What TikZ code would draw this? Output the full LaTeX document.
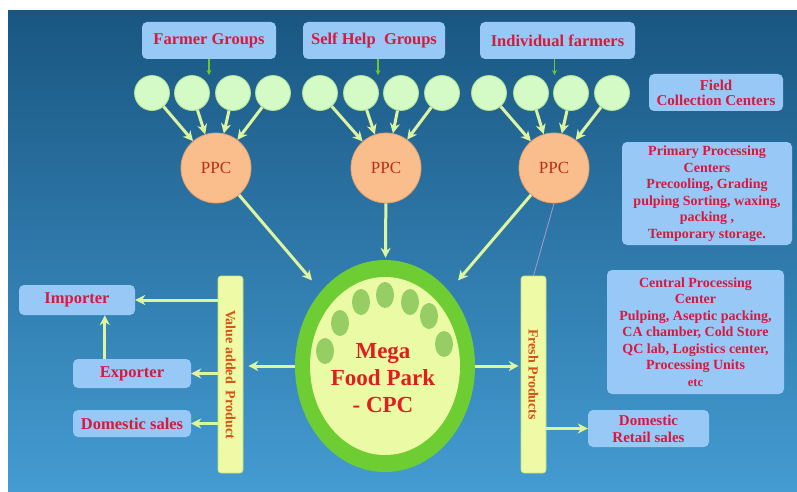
\documentclass[tikz,border=0pt]{standalone}
\usepackage{fontspec}
\setmainfont{Liberation Serif}
\usepackage{tikz}
\usetikzlibrary{arrows.meta,calc}
\usetikzlibrary{shapes.geometric}
\definecolor{bgtop}{RGB}{25,86,130}
\definecolor{bgbot}{RGB}{68,156,210}
\definecolor{boxblue}{RGB}{152,200,245}
\definecolor{txtred}{RGB}{215,25,65}
\definecolor{fccfill}{RGB}{212,250,197}
\definecolor{fccdraw}{RGB}{175,225,150}
\definecolor{ppcfill}{RGB}{250,190,140}
\definecolor{ppcdraw}{RGB}{232,160,110}
\definecolor{ppctext}{RGB}{185,45,25}
\definecolor{flowcol}{RGB}{222,245,160}
\definecolor{feedcol}{RGB}{110,200,40}
\definecolor{linkcol}{RGB}{175,150,210}
\definecolor{megagreen}{RGB}{110,205,50}
\definecolor{megain}{RGB}{235,250,165}
\definecolor{seedcol}{RGB}{150,205,100}
\definecolor{megared}{RGB}{225,30,30}
\definecolor{barfill}{RGB}{238,250,165}
\definecolor{bardraw}{RGB}{200,225,120}
\definecolor{bartext}{RGB}{215,80,20}
\tikzset{src/.style={rectangle,rounded corners=5pt,fill=boxblue,text=txtred,align=center,inner sep=0pt,font=\bfseries\fontsize{16.5}{18}\selectfont},
  info/.style={src,font=\bfseries\fontsize{14}{16.5}\selectfont},
  fccirc/.style={circle,fill=fccfill,draw=fccdraw,line width=0.8pt,minimum size=35pt,inner sep=0pt},
  ppcnode/.style={circle,fill=ppcfill,draw=ppcdraw,line width=0.8pt,minimum size=70pt,inner sep=0pt,text=ppctext,font=\fontsize{17}{20}\selectfont},
  bar/.style={rectangle,rounded corners=3pt,fill=barfill,draw=bardraw,line width=0.6pt,minimum width=25pt,minimum height=197pt,inner sep=0pt,text=bartext,font=\bfseries\fontsize{14}{15}\selectfont},
  megatext/.style={align=center,text=megared,font=\bfseries\fontsize{23}{27}\selectfont},
  seedfill/.style={fill=seedcol},
  flow/.style={->,draw=flowcol,line width=3pt},
  feed/.style={-{Stealth[length=5pt,width=5pt]},draw=feedcol,line width=1.5pt},
  link/.style={draw=linkcol,line width=0.8pt}}

\begin{document}
\begin{tikzpicture}[x=1pt,y=-1pt,>={Stealth[length=10pt,width=10pt]},line join=round]
% --- background
\fill[white] (0,0) rectangle (797,492);
\shade[top color=bgtop,bottom color=bgbot] (8,11) rectangle (797,492);
% --- sources
\node[src,minimum width=134pt,minimum height=37pt] (fg) at (209,40.5) {Farmer Groups};
\node[src,minimum width=142pt,minimum height=37pt] (shg) at (374,40.5) {Self Help\ \ Groups};
\node[src,minimum width=155pt,minimum height=37pt] (indf) at (557.5,40.5) {Individual farmers};
\node[src,minimum width=134pt,minimum height=37pt,font=\bfseries\fontsize{15}{15}\selectfont] (fieldcc) at (716,92.5) {Field\\Collection Centers};
% --- field collection centers
\node[fccirc] (c11) at (152,93) {}; \node[fccirc] (c12) at (192,93) {}; \node[fccirc] (c13) at (233,93) {}; \node[fccirc] (c14) at (273,93) {};
\node[fccirc] (c21) at (320,93) {}; \node[fccirc] (c22) at (361,93) {}; \node[fccirc] (c23) at (401,93) {}; \node[fccirc] (c24) at (442,93) {};
\node[fccirc] (c31) at (489,93) {}; \node[fccirc] (c32) at (531,93) {}; \node[fccirc] (c33) at (571,93) {}; \node[fccirc] (c34) at (612,93) {};
\draw[feed] (fg.south) -- (fg.south |- c12.north);
\draw[feed] ([xshift=4pt]shg.south) -- ([xshift=4pt]shg.south |- c22.north);
\draw[feed] ([xshift=-3pt]indf.south) -- ([xshift=-3pt]indf.south |- c32.north);
% --- primary processing centers
\node[ppcnode] (ppc1) at (216,168) {PPC};
\node[ppcnode] (ppc2) at (386,168) {PPC};
\node[ppcnode] (ppc3) at (554,168) {PPC};
\draw[flow] (c11) -- (ppc1); \draw[flow] (c12) -- (ppc1); \draw[flow] (c13) -- (ppc1); \draw[flow] (c14) -- (ppc1);
\draw[flow] (c21) -- (ppc2); \draw[flow] (c22) -- (ppc2); \draw[flow] (c23) -- (ppc2); \draw[flow] (c24) -- (ppc2);
\draw[flow] (c31) -- (ppc3); \draw[flow] (c32) -- (ppc3); \draw[flow] (c33) -- (ppc3); \draw[flow] (c34) -- (ppc3);
\node[info,minimum width=170pt,minimum height=103pt] (ppcinfo) at (707,193.5) {Primary Processing\\Centers\\Precooling, Grading\\pulping Sorting, waxing,\\packing ,\\Temporary storage.};
% --- mega food park
\node[ellipse,fill=megagreen,minimum width=180pt,minimum height=212pt,inner sep=0pt] (mega) at (385,366) {};
\fill[megain] (mega.center) ellipse [x radius=75pt,y radius=89pt];
\fill[seedfill] (325,351) ellipse [x radius=9pt,y radius=13pt]; \fill[seedfill] (340,323) ellipse [x radius=9pt,y radius=13pt];
\fill[seedfill] (361,302) ellipse [x radius=9pt,y radius=13pt]; \fill[seedfill] (385,295) ellipse [x radius=9pt,y radius=13pt];
\fill[seedfill] (410,302) ellipse [x radius=9pt,y radius=13pt]; \fill[seedfill] (429,316) ellipse [x radius=9pt,y radius=13pt];
\fill[seedfill] (444,344) ellipse [x radius=9pt,y radius=13pt];
\node[megatext] (megatxt) at (383,378) {Mega\\Food Park\\- CPC};
\draw[flow,shorten >=14pt] (ppc1) -- (mega);
\draw[flow,shorten >=2pt] (ppc2) -- (mega);
\draw[flow,shorten >=14pt] (ppc3) -- (mega);
% --- products
\node[bar] (vap) at (230.5,374.5) {\rotatebox{-90}{Value added\ \ Product}};
\node[bar] (fresh) at (533.5,374.5) {\rotatebox{-90}{Fresh Products}};
\draw[link] (ppc3.south) -- (fresh.north);
\draw[flow,shorten >=5pt] (mega.west) -- (mega.west -| vap.east);
\draw[flow,shorten >=2pt] (mega.east) -- (mega.east -| fresh.west);
% --- markets
\node[src,minimum width=116pt,minimum height=30pt] (importer) at (77,300) {Importer};
\node[src,minimum width=118pt,minimum height=29pt] (exporter) at (132,373.5) {Exporter};
\node[src,minimum width=118pt,minimum height=27pt] (domsales) at (132,423.5) {Domestic sales};
\node[src,minimum width=121pt,minimum height=37pt,font=\bfseries\fontsize{15}{17}\selectfont] (retail) at (648.5,428.5) {Domestic\\Retail sales};
\draw[flow] (vap.west |- importer.east) -- (importer.east);
\draw[flow] (vap.west |- exporter.east) -- (exporter.east);
\draw[flow] (vap.west |- domsales.east) -- (domsales.east);
\coordinate (expup) at ([xshift=32pt]exporter.north west);
\draw[flow] (expup) -- (expup |- importer.south);
\draw[flow] (fresh.east |- retail.west) -- (retail.west);
\node[info,minimum width=177pt,minimum height=124pt] (cpcinfo) at (695.5,332) {Central Processing\\Center\\Pulping, Aseptic packing,\\CA chamber, Cold Store\\QC lab, Logistics center,\\Processing Units\\{\fontsize{12.5}{16.5}\selectfont etc}};
\end{tikzpicture}
\end{document}
